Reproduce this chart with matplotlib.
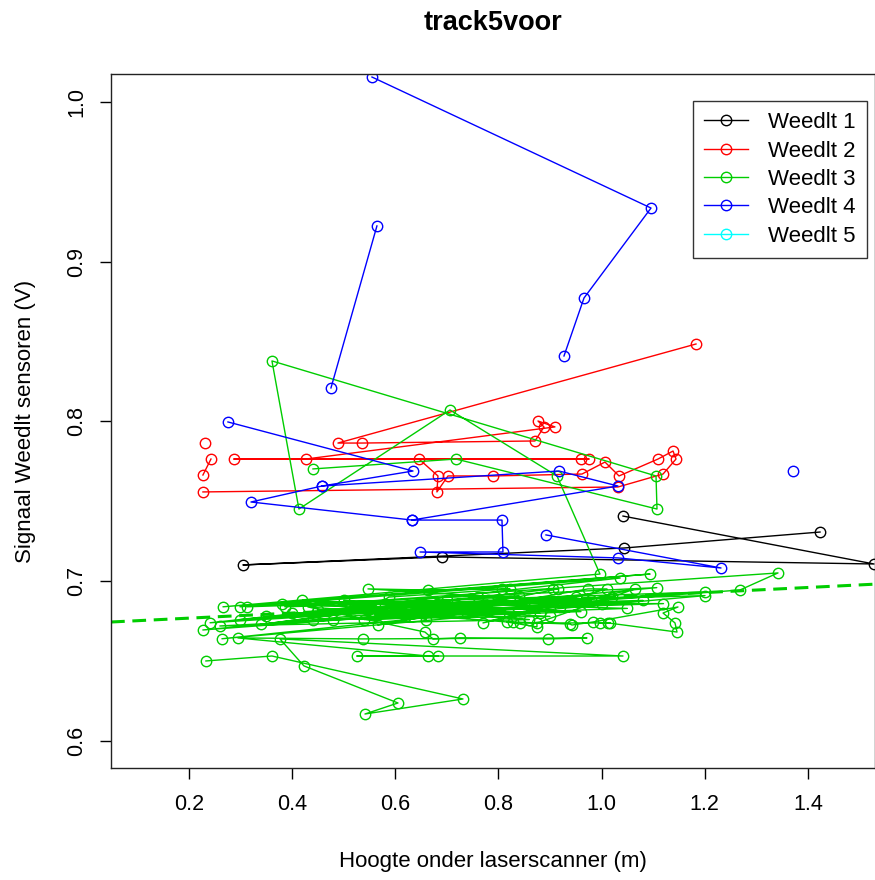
import numpy as np
import matplotlib
matplotlib.use("Agg")
import matplotlib.pyplot as plt

plt.rcParams['font.family'] = ['Liberation Sans', 'DejaVu Sans']

nan = np.nan

# Weedlt 1
w1_x = [1.0415, 1.5281, 0.6906, 0.3047, 1.0435, 1.4234]
w1_y = [0.7408, 0.7108, 0.7152, 0.7102, 0.7208, 0.7308]

# Weedlt 2
w2_x = [0.2272, 0.2428, nan, 0.2311, nan,
        1.1830, 0.4889, 0.5355, 0.8709, 0.8883, 0.8767, 0.9096,
        0.4269, 0.9600, 0.2873, 0.9755, 0.6460, 0.6828, 0.6808, 0.7022,
        0.7894, 0.9620, 1.0066, 1.0338, 1.1094, 1.1385, 1.1443, 1.1191,
        1.0318, 0.2272]
w2_y = [0.7665, 0.7765, nan, 0.7865, nan,
        0.8485, 0.7865, 0.7865, 0.7878, 0.7966, 0.8003, 0.7966,
        0.7765, 0.7765, 0.7765, 0.7765, 0.7765, 0.7659, 0.7559, 0.7659,
        0.7659, 0.7671, 0.7746, 0.7659, 0.7765, 0.7815, 0.7765, 0.7671,
        0.7590, 0.7559]

# Weedlt 3
w3_x = [0.4405, 0.7177, 1.1074, 1.1055, 0.3610, 0.4133, 0.7061, 0.9135, 0.9969,
        0.266, 1.094, 0.299, 1.036, 0.241, 1.2005, 0.3125, 1.107, 0.227, 1.268,
        1.342, 0.386, 1.2005, 0.264, 0.98, 0.35, 0.92, 0.40, 1.02, 0.45, 0.85,
        0.48, 1.08, 0.52, 0.78, 0.56, 0.95, 0.60, 0.88, 0.64, 1.12, 0.68, 0.82,
        0.72, 0.30, 0.76, 0.34, 0.70, 0.38, 0.90, 0.44, 1.05, 0.50, 0.66, 0.58,
        0.84, 0.62, 0.74, 0.26, 0.86, 0.42, 0.96, 0.54, 1.00,
        0.5471, 0.6634, 0.8069, 0.8224, 0.5878, 0.5471, 0.9057, 0.9154, 0.5665,
        0.9736, 1.0104, 0.7700, 1.0648, 0.8747, 0.8747, 0.8166, 0.8282, 0.9387,
        0.9426, 0.9833, 1.1481, 1.1191, 1.1423, 1.1462, 1.0124, 0.9969, 1.0163,
        0.8418, 0.4307, 0.6576, 0.6731, 0.7255, 0.8961, 0.9717, 0.5374, 0.2951,
        0.6634, 0.6828, 0.5258, 1.0415, 0.3765, 0.4230, 0.6053, 0.5413, 0.7313,
        0.3610, 0.2330]
w3_y = [0.7703, 0.7765, 0.7452, 0.7659, 0.8379, 0.7452, 0.8072, 0.7659, 0.7045,
        0.684, 0.7045, 0.684, 0.702, 0.674, 0.6933, 0.684, 0.696, 0.6695, 0.6945,
        0.7052, 0.684, 0.691, 0.664, 0.688, 0.678, 0.684, 0.680, 0.690, 0.682, 0.686,
        0.676, 0.688, 0.683, 0.688, 0.679, 0.690, 0.684, 0.680, 0.681, 0.686, 0.686, 0.680,
        0.684, 0.676, 0.690, 0.673, 0.688, 0.686, 0.678, 0.676, 0.683, 0.688, 0.676, 0.686,
        0.691, 0.678, 0.680, 0.672, 0.676, 0.688, 0.681, 0.676, 0.686,
        0.6952, 0.6945, 0.6952, 0.6952, 0.6901, 0.6820, 0.6952, 0.6952, 0.6726,
        0.6952, 0.6952, 0.6739, 0.6952, 0.6739, 0.6714, 0.6745, 0.6745, 0.6732,
        0.6726, 0.6745, 0.6839, 0.6801, 0.6739, 0.6682, 0.6739, 0.6739, 0.6739,
        0.6739, 0.6839, 0.6682, 0.6639, 0.6645, 0.6639, 0.6645, 0.6639, 0.6645,
        0.6532, 0.6532, 0.6532, 0.6532, 0.6639, 0.6470, 0.6238, 0.6169, 0.6263,
        0.6532, 0.6501]

# Weedlt 4
w4_x = [0.5549, 1.0958, 0.9659, 0.9271, nan,
        0.5645, 0.4754, nan,
        0.2757, 0.6344, 0.4579, 0.3203, 0.6324, 0.8069, 0.8088, 0.6480,
        1.0318, 1.2315, 0.8922, nan,
        0.4579, 0.9174, 1.0318, 0.6324, nan,
        1.3711]
w4_y = [1.0156, 0.9336, 0.8773, 0.8410, nan,
        0.9224, 0.8210, nan,
        0.7997, 0.7690, 0.7596, 0.7496, 0.7383, 0.7383, 0.7183, 0.7183,
        0.7146, 0.7083, 0.7290, nan,
        0.7596, 0.7690, 0.7596, 0.7383, nan,
        0.7690]

# Weedlt 5: no data, only in legend
w5_x = []
w5_y = []

# regression line for Weedlt 3
fit_a = 0.6737
fit_b = 0.0160

labels = ["Weedlt 1", "Weedlt 2", "Weedlt 3", "Weedlt 4", "Weedlt 5"]
colors = ["black", "#FF0000", "#00CD00", "#0000FF", "#00FFFF"]

fig = plt.figure(figsize=(8.75, 8.8), dpi=100)
ax = fig.add_axes([111/875, 1 - 768/880, (875 - 111)/875, (768 - 74)/880])

series = [(w1_x, w1_y), (w2_x, w2_y), (w3_x, w3_y), (w4_x, w4_y), (w5_x, w5_y)]
for (xs, ys), c, lab in zip(series, colors, labels):
    ax.plot(xs, ys, '-o', color=c, mfc='none', mec=c, ms=7.5, mew=1.0, lw=1.0, label=lab)

ax.axline((0, fit_a), slope=fit_b, color="#00CD00", lw=2.2, ls=(0, (4.5, 2.5)))

ax.set_xlim(0.049, 1.530)
ax.set_ylim(0.5831, 1.0175)
ax.set_xticks([0.2, 0.4, 0.6, 0.8, 1.0, 1.2, 1.4])
ax.set_yticks([0.6, 0.7, 0.8, 0.9, 1.0])
ax.set_xticklabels(["0.2", "0.4", "0.6", "0.8", "1.0", "1.2", "1.4"])
ax.set_yticklabels(["0.6", "0.7", "0.8", "0.9", "1.0"], rotation=90, va='center')
ax.tick_params(direction='out', length=8, width=1, labelsize=15.5, pad=11)
ax.tick_params(axis='y', pad=9)
for s in ax.spines.values():
    s.set_linewidth(1.0)
    s.set_color("#222222")

ax.set_title("track5voor", fontsize=19.5, fontweight='bold', pad=32)
ax.set_xlabel("Hoogte onder laserscanner (m)", fontsize=16, labelpad=26)
ax.set_ylabel("Signaal Weedlt sensoren (V)", fontsize=16, labelpad=22)

leg = ax.legend(loc='upper right', bbox_to_anchor=(0.9895, 0.961), borderaxespad=0,
                fontsize=16, fancybox=False, framealpha=1, edgecolor="#333333",
                handlelength=2.0, borderpad=0.5, labelspacing=0.33, handletextpad=0.9)
leg.get_frame().set_linewidth(1.0)

fig.savefig("out.png", dpi=100)
